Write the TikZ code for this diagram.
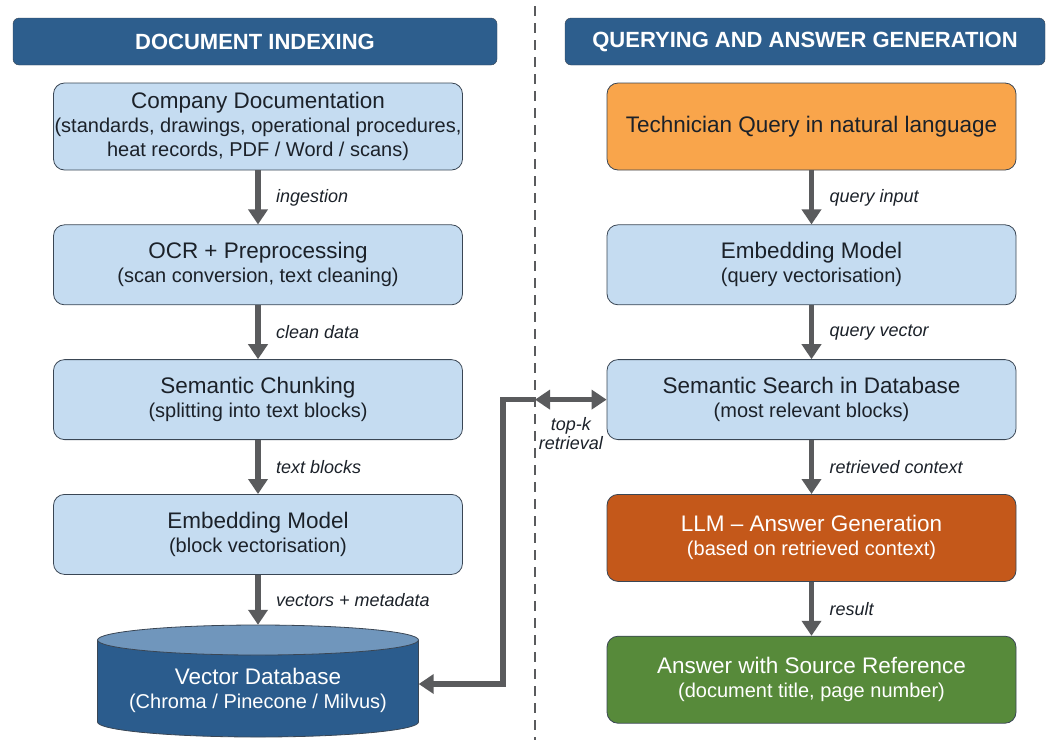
\documentclass[tikz,border=0pt]{standalone}
\usepackage{fontspec}
\setmainfont{Liberation Sans}
\usetikzlibrary{positioning,arrows.meta}

\definecolor{headblue}{HTML}{2D5E8D}
\definecolor{boxblue}{HTML}{C5DCF1}
\definecolor{boxline}{HTML}{3A4654}
\definecolor{textdark}{HTML}{1B2129}
\definecolor{queryorange}{HTML}{F9A54B}
\definecolor{llmorange}{HTML}{C4581A}
\definecolor{answergreen}{HTML}{578A3A}
\definecolor{dbbody}{HTML}{2B5C8D}
\definecolor{dbtop}{HTML}{7096BC}
\definecolor{arrgray}{HTML}{5A5B5D}

\newcommand{\titlefont}{\fontsize{22.5}{27}\selectfont}
\newcommand{\subfont}{\fontsize{20}{24}\selectfont}
\newcommand{\lblfont}{\fontsize{18}{21}\selectfont\itshape}

\begin{document}
\begin{tikzpicture} [x=1pt, y=-1pt, node distance=54pt,
                    header/.style={draw=boxline, fill=headblue, rounded corners=6pt,
                      minimum height=47pt, text=white, font=\fontsize{22}{26}\selectfont\bfseries},
                    stepbox/.style={draw=boxline, thick, fill=boxblue, rounded corners=11pt,
                      minimum width=409pt, minimum height=80pt, inner sep=0pt,
                      align=center, text=textdark, font=\subfont},
                    flow/.style={draw=arrgray, line width=5.5pt,
                      -{Triangle[length=15pt,width=19pt]}},
                    lbl/.style={font=\lblfont, text=textdark}]
\useasboundingbox (0,0) rectangle (1051,740);

% headers and divider
\node[header, minimum width=484pt] (hleft) at (255,41.5) {DOCUMENT INDEXING};
\node[header, minimum width=480pt] (hright) at (805,41.5) {QUERYING AND ANSWER GENERATION};
\draw[arrgray, line width=2pt, dash pattern=on 10pt off 7pt] (535,6) -- (535,740);

% indexing side
\node[stepbox, minimum height=87pt] (docs) at (258,126.5)
  {{\titlefont Company Documentation}\\(standards, drawings, operational procedures,\\heat records, PDF / Word / scans)};
\node[stepbox] (ocr) [below=of docs]
  {{\titlefont OCR + Preprocessing}\\(scan conversion, text cleaning)};
\node[stepbox] (chunk) [below=of ocr]
  {{\titlefont Semantic Chunking}\\(splitting into text blocks)};
\node[stepbox] (embl) [below=of chunk]
  {{\titlefont Embedding Model}\\(block vectorisation)};

% vector database cylinder
\fill[dbbody] (97.5,640) -- (97.5,722) arc[start angle=180, end angle=360, x radius=160.5pt, y radius=15pt]
  -- (418.5,640) -- cycle;
\draw[boxline, thick] (97.5,640) -- (97.5,722) arc[start angle=180, end angle=360, x radius=160.5pt, y radius=15pt]
  -- (418.5,640);
\draw[boxline, thick, fill=dbtop] (258,640) ellipse[x radius=160.5pt, y radius=15pt];
\node[text=white, align=center, font=\subfont, minimum width=321pt, minimum height=130pt] (db) at (258,690)
  {{\titlefont Vector Database}\\(Chroma / Pinecone / Milvus)};

% query side
\node[stepbox, fill=queryorange, minimum height=87pt] (query) at (811.5,126.5)
  {\titlefont Technician Query in natural language};
\node[stepbox] (embr) [below=of query]
  {{\titlefont Embedding Model}\\(query vectorisation)};
\node[stepbox] (search) [below=of embr]
  {{\titlefont Semantic Search in Database}\\(most relevant blocks)};
\node[stepbox, fill=llmorange, text=white, minimum height=87pt] (llm) [below=of search]
  {{\titlefont LLM -- Answer Generation}\\(based on retrieved context)};
\node[stepbox, fill=answergreen, text=white, minimum height=87pt] (answer) [below=of llm]
  {{\titlefont Answer with Source Reference}\\(document title, page number)};

\path (docs) edge[flow] node[lbl, right=12pt] {ingestion} (ocr)
      (ocr) edge[flow] node[lbl, right=12pt] {clean data} (chunk)
      (chunk) edge[flow] node[lbl, right=12pt] {text blocks} (embl)
      (embl) edge[flow] node[lbl, right=12pt] {vectors + metadata} (db)
      (query) edge[flow] node[lbl, right=12pt] {query input} (embr)
      (embr) edge[flow] node[lbl, right=12pt] {query vector} (search)
      (search) edge[flow] node[lbl, right=12pt] {retrieved context} (llm)
      (llm) edge[flow] node[lbl, right=12pt] {result} (answer);

% retrieval link
\coordinate (tk) at (535,0 |- search.west);
\draw[flow, {Triangle[length=15pt,width=19pt]}-{Triangle[length=15pt,width=19pt]}] (tk) -- (search.west)
  node[lbl, midway, below=12pt, align=center] {top-k\\[-2pt]retrieval};
\draw[flow] ([xshift=1pt]tk) -- (503,0 |- tk) |- ([yshift=6pt]db.east);
\end{tikzpicture}
\end{document}
